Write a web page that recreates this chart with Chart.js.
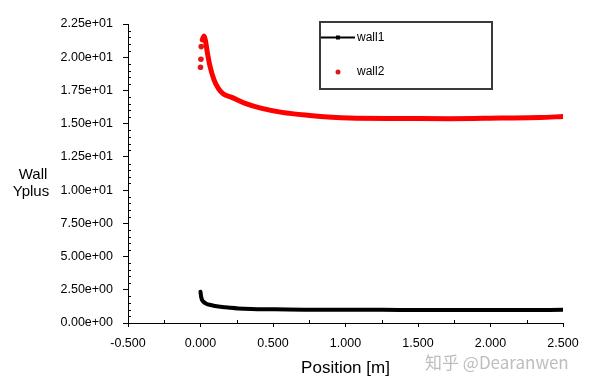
<!DOCTYPE html>
<html>
<head>
<meta charset="utf-8">
<script src="https://cdn.jsdelivr.net/npm/chart.js@4"></script>
<style>
  html, body { margin: 0; padding: 0; background: #fff; }
  #wrap { width: 590px; height: 387px; }
</style>
</head>
<body>
<div id="wrap"><canvas id="chart" width="590" height="387"></canvas></div>
<script>
/* Wall Yplus vs position, two walls */

const wall1X = [0.000, 0.004, 0.010, 0.020, 0.040, 0.070, 0.100, 0.150, 0.200, 0.260, 0.350, 0.490, 0.600, 0.750, 1.000, 1.250, 1.500, 1.750, 2.000, 2.250, 2.500];
const wall1Y = [2.36, 2.00, 1.75, 1.60, 1.45, 1.35, 1.28, 1.20, 1.15, 1.10, 1.06, 1.03, 1.01, 1.00, 0.99, 0.99, 0.98, 0.98, 0.98, 0.98, 0.99];

// first three entries are the loose dots near x = 0
const wall2X = [0.000, 0.003, 0.005, 0.012, 0.025, 0.035, 0.045, 0.066, 0.094, 0.123, 0.158, 0.216, 0.308, 0.423, 0.562, 0.724, 1.025, 1.370, 1.720, 2.070, 2.340, 2.500];
const wall2Y = [19.25, 19.85, 20.80, 21.30, 21.60, 21.20, 20.50, 19.30, 18.28, 17.66, 17.23, 16.98, 16.53, 16.15, 15.85, 15.65, 15.42, 15.39, 15.37, 15.42, 15.46, 15.54];
const looseDots = 3;

const xTicks = [-0.5, 0.0, 0.5, 1.0, 1.5, 2.0, 2.5];
const yTicks = [0, 2.5, 5, 7.5, 10, 12.5, 15, 17.5, 20, 22.5];

const seriesNames = ['wall1', 'wall2'];
const xTitle = 'Position [m]';
const yTitle = ['Wall', 'Yplus'];
const watermark = '知乎 @Dearanwen';

const BLACK = '#000000';
const RED = '#ff0000';
const DOT_RED = '#dd1a1a';
const FONT = "'Liberation Sans', Arial, sans-serif";

function sciLabel(v) {
  const [m, e] = Number(v).toExponential(2).split('e');
  const sign = e[0] === '-' ? '-' : '+';
  const digits = e.replace(/[+-]/, '').padStart(2, '0');
  return m + 'e' + sign + digits;
}

const toPoints = (xs, ys) => xs.map((x, i) => ({ x, y: ys[i] }));

/* minor ticks, legend box, y title and watermark */
const extras = {
  id: 'extras',
  afterDraw(chart) {
    const { ctx, scales: { x, y } } = chart;
    ctx.save();
    ctx.strokeStyle = '#000';
    ctx.lineWidth = 1;

    // minor ticks (inside the axes)
    ctx.beginPath();
    for (let i = 0; i < xTicks.length - 1; i++) {
      const px = Math.round(x.getPixelForValue((xTicks[i] + xTicks[i + 1]) / 2)) + 0.5;
      ctx.moveTo(px, y.bottom);
      ctx.lineTo(px, y.bottom - 3);
    }
    for (let i = 0; i < yTicks.length - 1; i++) {
      const step = (yTicks[i + 1] - yTicks[i]) / 5;
      for (let k = 1; k < 5; k++) {
        const py = Math.round(y.getPixelForValue(yTicks[i] + k * step)) + 0.5;
        ctx.moveTo(x.left, py);
        ctx.lineTo(x.left + 3, py);
      }
    }
    ctx.stroke();

    // legend
    ctx.strokeStyle = '#3a3a3a';
    ctx.lineWidth = 2;
    ctx.strokeRect(320, 22, 172, 67);

    ctx.strokeStyle = BLACK;
    ctx.lineWidth = 2;
    ctx.beginPath();
    ctx.moveTo(321, 37.5);
    ctx.lineTo(355, 37.5);
    ctx.stroke();
    ctx.fillStyle = BLACK;
    ctx.fillRect(336, 35.5, 4, 4);

    ctx.fillStyle = DOT_RED;
    ctx.beginPath();
    ctx.arc(338, 72, 2.5, 0, Math.PI * 2);
    ctx.fill();

    ctx.fillStyle = '#000';
    ctx.font = '12px ' + FONT;
    ctx.textBaseline = 'middle';
    ctx.textAlign = 'left';
    ctx.fillText(seriesNames[0], 357, 38);
    ctx.fillText(seriesNames[1], 357, 72);

    // y title, horizontal on two lines
    ctx.font = '15px ' + FONT;
    ctx.textAlign = 'center';
    ctx.fillText(yTitle[0], 33, 175);
    ctx.fillText(yTitle[1], 31, 192);

    // watermark
    ctx.fillStyle = '#bdbdbd';
    ctx.font = "17px 'Noto Sans CJK SC', " + FONT;
    ctx.textAlign = 'left';
    ctx.fillText(watermark, 425, 363);
    ctx.restore();
  }
};

new Chart(document.getElementById('chart'), {
  type: 'scatter',
  data: {
    datasets: [
      {
        label: seriesNames[0],
        data: toPoints(wall1X, wall1Y),
        showLine: true,
        borderColor: BLACK,
        backgroundColor: BLACK,
        borderWidth: 4,
        pointRadius: 0,
        cubicInterpolationMode: 'monotone',
        borderCapStyle: 'round',
        borderJoinStyle: 'round'
      },
      {
        label: seriesNames[1],
        data: toPoints(wall2X, wall2Y),
        showLine: true,
        borderColor: RED,
        backgroundColor: DOT_RED,
        borderWidth: 5,
        pointRadius: ctx => ctx.dataIndex < looseDots ? 2.8 : 0,
        pointBorderWidth: 0,
        cubicInterpolationMode: 'monotone',
        borderCapStyle: 'round',
        borderJoinStyle: 'round',
        segment: {
          borderColor: ctx => ctx.p1DataIndex <= looseDots ? 'rgba(0,0,0,0)' : RED
        }
      }
    ]
  },
  options: {
    responsive: false,
    animation: false,
    layout: { padding: { top: 24, right: 27, left: 0, bottom: 0 } },
    plugins: {
      legend: { display: false },
      tooltip: { enabled: false }
    },
    scales: {
      x: {
        type: 'linear',
        min: xTicks[0],
        max: xTicks[xTicks.length - 1],
        afterBuildTicks: s => { s.ticks = xTicks.map(v => ({ value: v })); },
        afterFit: s => { s.height = 64; },
        border: { display: true, color: '#000', width: 1 },
        grid: { drawOnChartArea: false, drawTicks: true, tickLength: 4, color: '#000' },
        ticks: {
          color: '#000',
          font: { family: FONT, size: 12.5 },
          padding: 9,
          maxRotation: 0,
          callback: v => Number(v).toFixed(3)
        },
        title: {
          display: true,
          text: xTitle,
          color: '#000',
          font: { family: FONT, size: 17 },
          padding: { top: 4, bottom: 8 }
        }
      },
      y: {
        type: 'linear',
        min: yTicks[0],
        max: yTicks[yTicks.length - 1],
        afterBuildTicks: s => { s.ticks = yTicks.map(v => ({ value: v })); },
        afterFit: s => { s.width = 128; },
        border: { display: true, color: '#000', width: 1 },
        grid: { drawOnChartArea: false, drawTicks: true, tickLength: 5, color: '#000' },
        ticks: {
          color: '#000',
          font: { family: FONT, size: 12.5 },
          padding: 10,
          callback: v => sciLabel(v)
        }
      }
    }
  },
  plugins: [extras]
});
</script>
</body>
</html>
